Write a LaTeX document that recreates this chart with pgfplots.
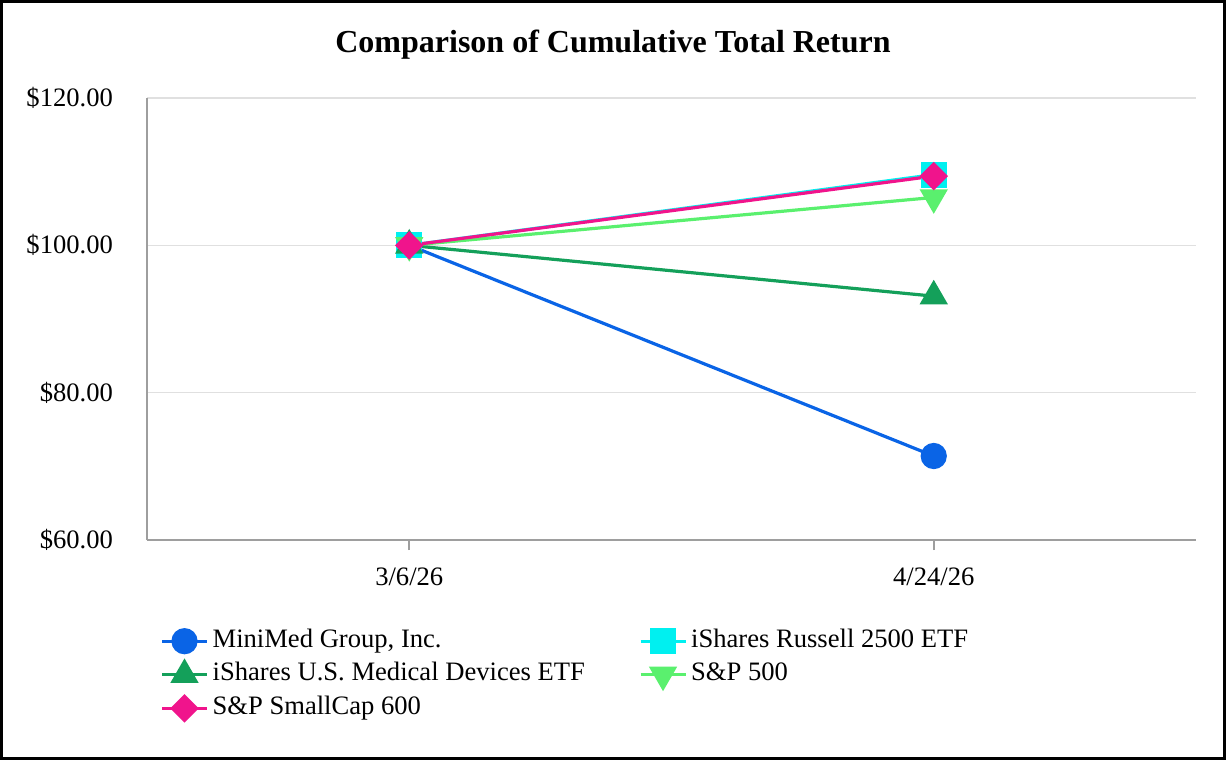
\documentclass[border=0pt]{standalone}
\usepackage{fontspec}
\setmainfont{Liberation Serif}
\usepackage{pgfplots}
\pgfplotsset{compat=1.18}
\definecolor{cMini}{RGB}{10,100,230}
\definecolor{cRus}{RGB}{0,240,240}
\definecolor{cMed}{RGB}{20,160,90}
\definecolor{cSP}{RGB}{90,240,110}
\definecolor{cSmall}{RGB}{240,20,140}
\begin{document}
\begin{tikzpicture}
\useasboundingbox (-73.5pt,-110pt) rectangle (539.5pt,270pt);
\draw[line width=1.6pt] (-72.7pt,-109.2pt) rectangle (538.7pt,269.2pt);
\node[font=\bfseries\fontsize{16}{19}\selectfont] at (233pt,247.5pt) {Comparison of Cumulative Total Return};
\begin{axis}[
  at={(0pt,0pt)}, anchor=south west,
  scale only axis, width=524.5pt, height=221pt,
  xmin=-0.5, xmax=1.5, ymin=60, ymax=120,
  xtick={0,1}, xticklabels={3/6/26,4/24/26},
  ytick={60,80,100,120},
  yticklabel={\$\pgfmathprintnumber[fixed,fixed zerofill,precision=2]{\tick}},
  /pgf/number format/assume math mode=true,
  axis lines*=left,
  axis line style={draw=black!38, line width=1pt},
  ymajorgrids, grid style={draw=black!12, line width=0.8pt},
  ytick style={draw=none},
  xtick style={draw=black!38, line width=1pt},
  tick align=outside, major tick length=5pt,
  tick label style={font=\fontsize{13.3}{15}\selectfont},
  xticklabel style={yshift=-5.5pt},
  yticklabel style={xshift=-8.5pt},
  clip=false,
  legend columns=2,
  legend style={at={(0.0124,-0.19)}, anchor=north west, draw=none, inner sep=0pt,
    font=\fontsize{13.3}{15}\selectfont,
    nodes={text height=9pt, text depth=3pt, inner ysep=2.4pt},
    /tikz/every even column/.append style={column sep=25pt}},
  legend cell align=left,
  legend image code/.code={\draw[mark repeat=2,mark phase=2,#1] plot coordinates {(0pt,0pt) (11.25pt,0pt) (22.5pt,0pt)};},
  every axis plot/.append style={line width=1.6pt},
]
\addplot[color=cMini, mark=*, mark size=5.75pt, mark options={solid}] coordinates {(0,100) (1,71.4)};
\addlegendentry{MiniMed Group, Inc.}
\addplot[color=cRus, mark=square*, mark size=5.75pt] coordinates {(0,100) (1,109.6)};
\addlegendentry{iShares Russell 2500 ETF}
\addplot[color=cMed, mark=triangle*, mark size=6.6pt] coordinates {(0,100) (1,93.1)};
\addlegendentry{iShares U.S. Medical Devices ETF}
\addplot[color=cSP, mark=triangle*, mark size=6.6pt, mark options={rotate=180}] coordinates {(0,100) (1,106.5)};
\addlegendentry{S\&P 500}
\addplot[color=cSmall, mark=square*, mark size=4.25pt, mark options={rotate=45}] coordinates {(0,100) (1,109.4)};
\addlegendentry{S\&P SmallCap 600}
\end{axis}
\end{tikzpicture}
\end{document}
